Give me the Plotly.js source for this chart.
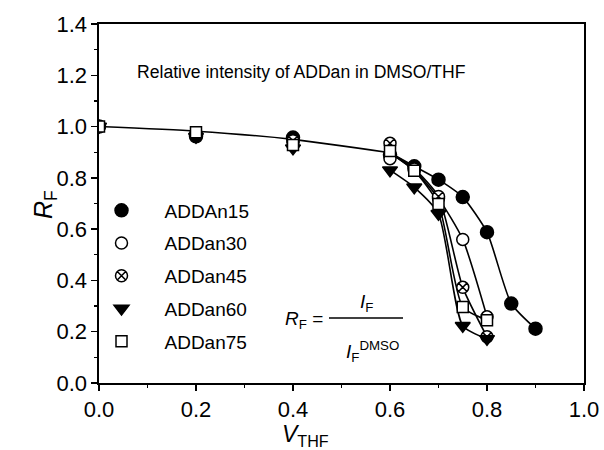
<!DOCTYPE html>
<html>
<head>
<meta charset="utf-8">
<script src="https://cdn.plot.ly/plotly-3.0.1.min.js"></script>
<style>html,body{margin:0;padding:0;background:#fff;}#chart{width:604px;height:450px;}</style>
</head>
<body>
<div id="chart"></div>
<script>
// ---- data ----
const vTHF15 = [0, 0.2, 0.4, 0.6, 0.65, 0.7, 0.75, 0.8, 0.85, 0.9];
const vTHF = [0, 0.2, 0.4, 0.6, 0.65, 0.7, 0.75, 0.8];
const names = ["ADDAn15", "ADDan30", "ADDan45", "ADDan60", "ADDan75"];
const rf15 = [1.0, 0.962, 0.957, 0.89, 0.845, 0.793, 0.725, 0.588, 0.31, 0.212];
const rf30 = [1.0, 0.97, 0.94, 0.875, 0.83, 0.72, 0.56, 0.258];
const rf45 = [1.0, 0.975, 0.945, 0.935, 0.835, 0.727, 0.373, 0.18];
const rf60 = [1.0, 0.96, 0.915, 0.83, 0.763, 0.66, 0.223, 0.172];
const rf75 = [1.0, 0.978, 0.928, 0.905, 0.828, 0.698, 0.296, 0.245];
// shared guide curve for low THF fractions
const commonX = [0, 0.2, 0.4, 0.6];
const commonY = [1.0, 0.982, 0.95, 0.898];
// value at V=0.6 where each branch of the guide curve starts
const branchStart = [0.898, 0.898, 0.898, 0.83, 0.898];

const xs = [vTHF15, vTHF, vTHF, vTHF, vTHF];
const ys = [rf15, rf30, rf45, rf60, rf75];
const symbols = ["circle", "circle", "circle-x", "triangle-down", "square"];
const fills = ["black", "white", "white", "black", "white"];
const sizes = [13, 12, 12, 13, 11];

const FONT = "Liberation Sans, Arial, Helvetica, sans-serif";
const traces = [];
traces.push({x: commonX, y: commonY, mode: "lines", showlegend: false, hoverinfo: "skip",
  line: {color: "black", width: 1.6, shape: "spline", smoothing: 0.6}});
for (let i = 0; i < names.length; i++) {
  const bx = [0.6].concat(xs[i].filter(v => v > 0.6));
  const by = [branchStart[i]].concat(ys[i].filter((v, k) => xs[i][k] > 0.6));
  traces.push({x: bx, y: by, mode: "lines", showlegend: false, hoverinfo: "skip",
    line: {color: "black", width: 1.6, shape: "spline", smoothing: 0.6}});
}
for (let i = 0; i < names.length; i++) {
  traces.push({x: xs[i], y: ys[i], name: names[i], mode: "markers", legendgroup: names[i],
    marker: {symbol: symbols[i], size: sizes[i], color: fills[i], line: {color: "black", width: 1.5}}});
}

function px2x(p) { return (p - 99) / 485; }
function px2y(p) { return (383 - p) / 359; }
function ann(px, py, text, size, extra) {
  return Object.assign({xref: "paper", yref: "paper", x: px2x(px), y: px2y(py), text: text,
    xanchor: "center", yanchor: "middle", showarrow: false,
    font: {family: FONT, size: size, color: "black"}}, extra || {});
}

const axisCommon = {
  dtick: 0.2, tick0: 0, tickformat: ".1f",
  ticks: "outside", ticklen: 6, tickwidth: 1.4, tickcolor: "black",
  minor: {dtick: 0.1, ticks: "outside", ticklen: 3, tickwidth: 1.2, tickcolor: "black"},
  showline: true, linecolor: "black", linewidth: 1.6, mirror: true,
  showgrid: false, zeroline: false,
  tickfont: {family: FONT, size: 22, color: "black"}
};

const layout = {
  width: 604, height: 450,
  margin: {l: 99, r: 20, t: 24, b: 67},
  paper_bgcolor: "white", plot_bgcolor: "white",
  font: {family: FONT, color: "black", size: 20},
  showlegend: true,
  legend: {x: px2x(78.5), y: px2y(191.5), xanchor: "left", yanchor: "top",
    font: {family: FONT, size: 19, color: "black"}, bgcolor: "rgba(0,0,0,0)",
    tracegroupgap: 5, traceorder: "grouped", itemwidth: 76},
  xaxis: Object.assign({range: [0, 1.0]}, axisCommon),
  yaxis: Object.assign({range: [0, 1.4]}, axisCommon),
  annotations: [
    ann(301, 72, "Relative intensity of ADDan in DMSO/THF", 17.6),
    ann(305, 435, "<i>V</i><sub>THF</sub>", 23),
    ann(45, 205, "<i>R</i><sub>F</sub>", 25, {textangle: -90}),
    ann(325, 320, "<i>R</i><sub>F</sub> =", 19, {xanchor: "right"}),
    ann(366, 303, "<i>I</i><sub>F</sub>", 19),
    ann(372, 351, "<i>I</i><sub>F</sub><sup>DMSO</sup>", 19)
  ],
  shapes: [
    {type: "line", xref: "paper", yref: "paper", x0: px2x(329), x1: px2x(403), y0: px2y(318), y1: px2y(318),
      line: {color: "black", width: 1.3}}
  ]
};

Plotly.newPlot("chart", traces, layout, {staticPlot: true, displayModeBar: false});
</script>
</body>
</html>
